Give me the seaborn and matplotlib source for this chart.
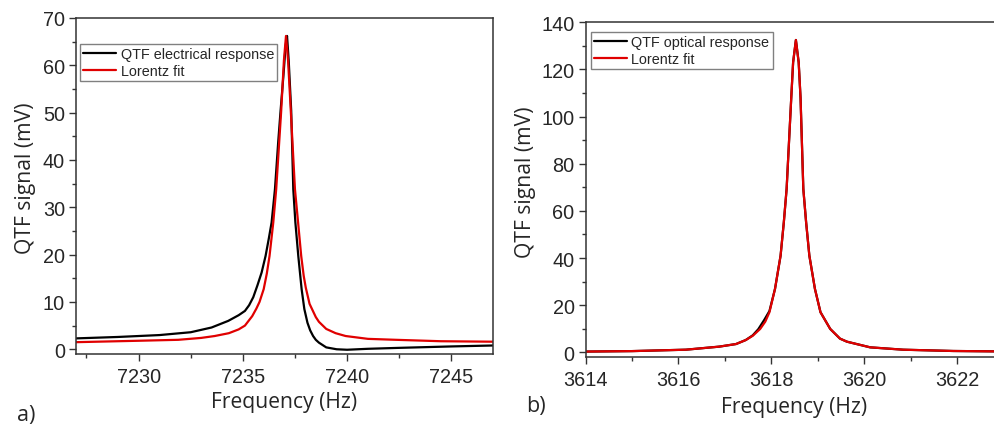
import numpy as np
import pandas as pd
import matplotlib
matplotlib.use("Agg")
import matplotlib.pyplot as plt
from matplotlib.ticker import MultipleLocator
import seaborn as sns

sns.set_style("white")
plt.rcParams["font.family"] = ["Liberation Sans", "DejaVu Sans"]

# a) electrical response (Hz, mV)
elec_freq = [7227.0, 7229.0, 7231.0, 7232.5, 7233.5, 7234.3, 7234.8, 7235.1, 7235.3,
             7235.5, 7235.7, 7235.9, 7236.09, 7236.25, 7236.38, 7236.54, 7236.7,
             7236.81, 7236.95, 7237.05, 7237.12, 7237.2, 7237.32, 7237.42, 7237.52,
             7237.66, 7237.82, 7237.95, 7238.1, 7238.23, 7238.37, 7238.5, 7238.65,
             7239.0, 7239.5, 7240.0, 7241.0, 7242.5, 7245.0, 7247.0]
elec_sig = [2.3, 2.6, 3.0, 3.6, 4.6, 6.0, 7.2, 8.1, 9.3,
            11.0, 13.5, 16.2, 19.7, 23.5, 26.8, 33.8, 44.0,
            50.4, 58.0, 64.0, 66.2, 61.0, 50.4, 33.8, 26.8,
            19.7, 12.7, 8.5, 5.6, 4.0, 2.8, 2.0, 1.4,
            0.4, 0.0, -0.1, 0.1, 0.3, 0.6, 0.8]

elec_fit_freq = [7227.0, 7230.0, 7231.9, 7233.0, 7233.65, 7234.33, 7234.8, 7235.1,
                 7235.45, 7235.65, 7235.8, 7236.0, 7236.15, 7236.28, 7236.46, 7236.6,
                 7236.84, 7236.97, 7237.07, 7237.17, 7237.3, 7237.5, 7237.65, 7237.8,
                 7237.92, 7238.02, 7238.2, 7238.5, 7238.65, 7239.0, 7239.45, 7239.93,
                 7241.0, 7242.34, 7244.5, 7247.0]
elec_fit_sig = [1.5, 1.8, 2.0, 2.4, 2.8, 3.4, 4.2, 5.0,
                7.0, 8.6, 10.0, 12.7, 16.0, 19.7, 26.8, 33.8,
                50.4, 61.0, 66.2, 61.0, 50.4, 33.8, 26.8, 19.7,
                15.5, 13.0, 9.6, 6.8, 5.8, 4.3, 3.4, 2.8,
                2.2, 2.0, 1.7, 1.6]

# b) optical response (Hz, mV)
opt_freq = [3614.0, 3615.0, 3616.16, 3616.88, 3617.24, 3617.45, 3617.6, 3617.72,
            3617.85, 3617.96, 3618.08, 3618.2, 3618.27, 3618.33, 3618.43, 3618.47,
            3618.53, 3618.59, 3618.63, 3618.69, 3618.75, 3618.82, 3618.94, 3619.06,
            3619.27, 3619.48, 3619.63, 3620.13, 3620.84, 3621.92, 3623.0]
opt_sig = [0.3, 0.5, 1.1, 2.4, 3.5, 5.2, 7.2, 9.8,
           13.8, 17.5, 26.9, 41.0, 55.2, 69.3, 108.0, 123.0,
           132.5, 123.0, 108.0, 69.3, 55.2, 41.0, 26.9, 17.0,
           9.9, 5.8, 4.5, 2.1, 1.1, 0.55, 0.35]

opt_fit_freq = [3614.0, 3615.0, 3616.16, 3616.88, 3617.24, 3617.45, 3617.6, 3617.76,
                3617.87, 3617.96, 3618.08, 3618.2, 3618.27, 3618.33, 3618.43, 3618.47,
                3618.53, 3618.59, 3618.63, 3618.69, 3618.75, 3618.82, 3618.94, 3619.06,
                3619.27, 3619.48, 3619.63, 3620.13, 3620.84, 3621.92, 3623.0]
opt_fit_sig = [0.3, 0.5, 1.1, 2.4, 3.5, 5.2, 7.0, 9.9,
               13.0, 17.0, 26.9, 41.0, 55.2, 69.3, 108.0, 123.0,
               132.5, 123.0, 108.0, 69.3, 55.2, 41.0, 26.9, 17.0,
               9.9, 5.8, 4.5, 2.1, 1.1, 0.55, 0.35]

elec = pd.DataFrame({"f": elec_freq, "s": elec_sig})
elec_fit = pd.DataFrame({"f": elec_fit_freq, "s": elec_fit_sig})
opt = pd.DataFrame({"f": opt_freq, "s": opt_sig})
opt_fit = pd.DataFrame({"f": opt_fit_freq, "s": opt_fit_sig})

fig = plt.figure(figsize=(9.94, 4.27), dpi=100)
ax1 = fig.add_axes([0.0765, 0.1686, 0.4195, 0.787])
ax2 = fig.add_axes([0.5892, 0.1616, 0.4202, 0.7838])

label_font = ["Open Sans", "DejaVu Sans"]
spine_col = "#333333"


def style_axis(ax, xlim, ylim, xmaj, xmin, ymaj, ymin, anchor, xlab_pos, ylab_pos):
    ax.set_xlim(*xlim)
    ax.set_ylim(*ylim)
    ax.xaxis.set_major_locator(MultipleLocator(xmaj))
    ax.xaxis.set_minor_locator(MultipleLocator(xmin))
    ax.yaxis.set_major_locator(MultipleLocator(ymaj))
    ax.yaxis.set_minor_locator(MultipleLocator(ymin))
    ax.tick_params(which="both", direction="out", bottom=True, left=True,
                   top=False, right=False, color=spine_col, width=1)
    ax.tick_params(which="major", length=5, labelsize=14.3)
    ax.tick_params(axis="x", which="major", pad=4.5)
    ax.tick_params(axis="y", which="major", pad=3)
    ax.tick_params(which="minor", length=3)
    for sp in ax.spines.values():
        sp.set_visible(True)
        sp.set_color(spine_col)
        sp.set_linewidth(1.1)
    ax.set_xlabel("Frequency (Hz)", fontsize=15.2, family=label_font)
    ax.set_ylabel("QTF signal (mV)", fontsize=15.2, family=label_font)
    ax.xaxis.set_label_coords(*xlab_pos)
    ax.yaxis.set_label_coords(*ylab_pos)
    ax.legend(loc="upper left", bbox_to_anchor=anchor, borderaxespad=0, fontsize=10.4,
              frameon=True, fancybox=False, edgecolor="#808080", framealpha=1,
              handlelength=2.3, handletextpad=0.3, borderpad=0.22, labelspacing=0.2)


sns.lineplot(data=elec, x="f", y="s", ax=ax1, color="black", lw=1.6,
             estimator=None, label="QTF electrical response")
sns.lineplot(data=elec_fit, x="f", y="s", ax=ax1, color="#e00000", lw=1.6,
             estimator=None, label="Lorentz fit")
style_axis(ax1, (7227, 7247), (-1, 70), 5, 2.5, 10, 5, (0.0096, 0.922),
           (0.5, -0.11), (-0.097, 0.527))

sns.lineplot(data=opt, x="f", y="s", ax=ax2, color="black", lw=1.6,
             estimator=None, label="QTF optical response")
sns.lineplot(data=opt_fit, x="f", y="s", ax=ax2, color="#e00000", lw=1.6,
             estimator=None, label="Lorentz fit")
style_axis(ax2, (3614, 3623), (-2, 140), 2, 1, 20, 10, (0.012, 0.972),
           (0.5, -0.118), (-0.118, 0.526))

fig.text(0.026, 0.026, "a)", fontsize=15.5, family=label_font, va="center", ha="center")
fig.text(0.539, 0.047, "b)", fontsize=15.5, family=label_font, va="center", ha="center")

fig.savefig("out.png", dpi=100)
